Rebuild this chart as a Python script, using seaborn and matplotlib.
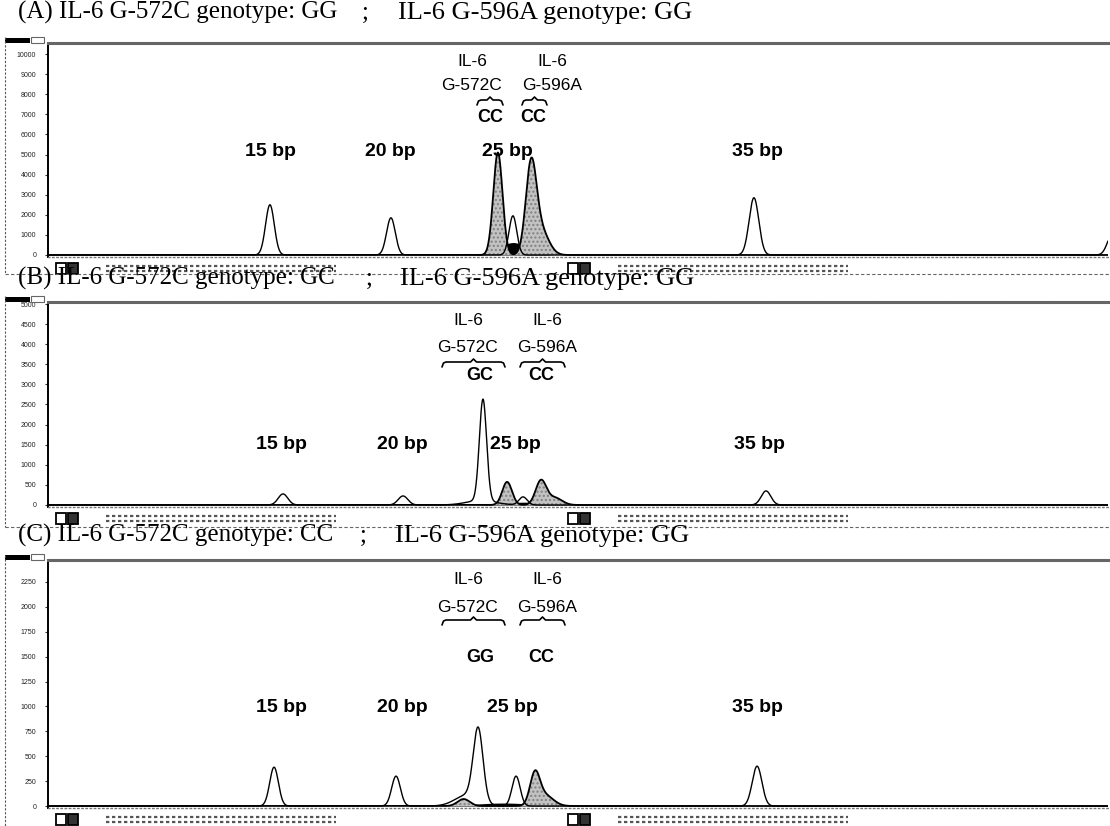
import numpy as np
import matplotlib
matplotlib.use("Agg")
import matplotlib.pyplot as plt
import seaborn as sns
from matplotlib.lines import Line2D
from matplotlib.patches import Rectangle

# ---------------- data (peak table) ----------------
panel_ids = ["A", "B", "C"]
titles_left = ["(A) IL-6 G-572C genotype: GG",
               "(B) IL-6 G-572C genotype: GC",
               "(C) IL-6 G-572C genotype: CC"]
titles_right = ["IL-6 G-596A genotype: GG",
                "IL-6 G-596A genotype: GG",
                "IL-6 G-596A genotype: GG"]
genotype_572 = ["CC", "GC", "GG"]
genotype_596 = ["CC", "CC", "CC"]
size_labels = ["15 bp", "20 bp", "25 bp", "35 bp"]

# size-standard (hollow) trace: position (bp), height (RFU), width (bp)
a_size_pos = [15.0, 20.0, 25.04, 35.0, 49.8]
a_size_h = [2500, 1850, 1950, 2850, 1000]
a_size_w = [0.18, 0.18, 0.16, 0.2, 0.2]
b_size_pos = [15.0, 19.97, 23.28, 23.2, 24.94, 35.0]
b_size_h = [275, 225, 2525, 110, 200, 350]
b_size_w = [0.2, 0.2, 0.15, 0.6, 0.17, 0.2]
c_size_pos = [15.0, 20.05, 23.45, 23.0, 25.02, 35.0]
c_size_h = [390, 300, 720, 110, 300, 400]
c_size_w = [0.18, 0.18, 0.2, 0.5, 0.17, 0.2]

# SNP product (grey filled) trace
a_snp_pos = [24.42, 25.79, 26.2]
a_snp_h = [5100, 4300, 1200]
a_snp_w = [0.19, 0.22, 0.32]
b_snp_pos = [24.28, 25.68, 26.25]
b_snp_h = [575, 600, 180]
b_snp_w = [0.2, 0.22, 0.3]
c_snp_pos = [22.85, 25.8, 26.2]
c_snp_h = [70, 300, 110]
c_snp_w = [0.25, 0.2, 0.35]

# dark filled channel
a_dark_pos = [25.05]
a_dark_h = [620]
a_dark_w = [0.55]
b_dark_pos = [25.0]
b_dark_h = [70]
b_dark_w = [0.9]
c_dark_pos = [24.5]
c_dark_h = [30]
c_dark_w = [1.2]

# y tick values for each panel
a_yticks = list(range(0, 10001, 1000))
b_yticks = list(range(0, 5001, 500))
c_yticks = list(range(0, 2251, 250))

# ---------------- layout ----------------
W, H = 1110, 826
sns.set_theme(style="white")
plt.rcParams["font.family"] = ["Liberation Sans", "DejaVu Sans"]
plt.rcParams["text.color"] = "black"

fig = plt.figure(figsize=(W / 100, H / 100), dpi=100)


def fx(px):
    return px / W


def fy(py):
    return 1 - py / H


def ftext(px, py, s, **kw):
    kw.setdefault("color", "black")
    return fig.text(fx(px), fy(py), s, **kw)


def fline(xs, ys, **kw):
    fig.add_artist(Line2D([fx(v) for v in xs], [fy(v) for v in ys],
                          transform=fig.transFigure, **kw))


def brace(x0, x1, y):
    xm = (x0 + x1) / 2
    xs = [x0, x0 + 1.5, x0 + 4, xm - 3, xm, xm + 3, x1 - 4, x1 - 1.5, x1]
    ys = [y + 5, y + 1, y, y, y - 3, y, y, y + 1, y + 5]
    fline(xs, ys, color="black", lw=1.2)


def peaks(x, pos, h, w):
    y = np.zeros_like(x)
    for p, a, s in zip(pos, h, w):
        y = y + a * np.exp(-0.5 * ((x - p) / s) ** 2)
    return y


panels = [
    dict(top=43, bot=257, xlim=(5.83, 49.63), ylim=(-100, 10550), yt=a_yticks,
         size=(a_size_pos, a_size_h, a_size_w), snp=(a_snp_pos, a_snp_h, a_snp_w),
         dark=(a_dark_pos, a_dark_h, a_dark_w),
         title_y=19, frame_top=37, frame_bot=274,
         il6_y=62, g_y=86, brace_y=100, br=((477, 503), (522, 547)),
         gt_y=118, gt_x=(490, 533), bp_y=152, bp_x=(270, 390, 507, 757),
         il6_x=(472, 552), semi_x=362, right_x=398),
    dict(top=302, bot=507, xlim=(5.27, 49.16), ylim=(-50, 5050), yt=b_yticks,
         size=(b_size_pos, b_size_h, b_size_w), snp=(b_snp_pos, b_snp_h, b_snp_w),
         dark=(b_dark_pos, b_dark_h, b_dark_w),
         title_y=285, frame_top=296, frame_bot=527,
         il6_y=320, g_y=347, brace_y=362, br=((442, 505), (520, 565)),
         gt_y=376, gt_x=(480, 541), bp_y=445, bp_x=(281, 402, 515, 759),
         il6_x=(468, 547), semi_x=366, right_x=400),
    dict(top=560, bot=808, xlim=(5.64, 49.53), ylim=(-20, 2470), yt=c_yticks,
         size=(c_size_pos, c_size_h, c_size_w), snp=(c_snp_pos, c_snp_h, c_snp_w),
         dark=(c_dark_pos, c_dark_h, c_dark_w),
         title_y=542, frame_top=555, frame_bot=826,
         il6_y=580, g_y=607, brace_y=620, br=((442, 505), (520, 565)),
         gt_y=658, gt_x=(480, 541), bp_y=708, bp_x=(281, 402, 512, 757),
         il6_x=(468, 547), semi_x=360, right_x=395),
]

serif = ["Liberation Serif", "DejaVu Serif"]
narrow = ["Liberation Sans Narrow", "Liberation Sans", "DejaVu Sans"]
sans = ["Liberation Sans", "DejaVu Sans"]

for i, p in enumerate(panels):
    left, right = 48, 1108
    ax = fig.add_axes([fx(left), fy(p["bot"]), (right - left) / W, (p["bot"] - p["top"]) / H])
    x = np.linspace(p["xlim"][0], p["xlim"][1], 5000)
    y_size = peaks(x, *p["size"])
    y_snp = peaks(x, *p["snp"])
    y_dark = peaks(x, *p["dark"])

    ax.fill_between(x, 0, y_dark, color="black", lw=0, zorder=2)
    ax.fill_between(x, 0, y_snp, where=y_snp > 1, facecolor="#c2c2c2", hatch="....",
                    edgecolor="#808080", lw=0, zorder=3)
    sns.lineplot(x=x, y=y_snp, ax=ax, color="black", lw=1.3, sort=False,
                 estimator=None, zorder=4)
    sns.lineplot(x=x, y=y_size, ax=ax, color="black", lw=1.0, sort=False,
                 estimator=None, zorder=5)

    ax.set_xlim(*p["xlim"])
    ax.set_ylim(*p["ylim"])
    ax.set_yticks(p["yt"])
    ax.set_yticklabels([str(v) for v in p["yt"]], fontsize=5, color="#222222")
    ax.tick_params(axis="y", length=2.5, width=0.8, pad=6, left=True, color="#333333")
    ax.set_xticks([])
    ax.set_xlabel("")
    ax.set_ylabel("")
    ax.spines["right"].set_visible(False)
    ax.spines["left"].set_color("black")
    ax.spines["left"].set_linewidth(1.4)
    ax.spines["top"].set_color("#666666")
    ax.spines["top"].set_linewidth(2.2)
    ax.spines["top"].set_linestyle((0, (1.2, 0.8)))
    ax.spines["bottom"].set_color("#777777")
    ax.spines["bottom"].set_linewidth(1.0)
    ax.spines["bottom"].set_linestyle((0, (1, 2)))
    ax.patch.set_alpha(0)

    # panel title
    ftext(18, p["title_y"], titles_left[i], family=serif, fontsize=18,
          va="baseline", ha="left")
    ftext(p["semi_x"], p["title_y"], ";", family=serif, fontsize=18,
          va="baseline", ha="left")
    ftext(p["right_x"], p["title_y"], titles_right[i], family=serif, fontsize=19,
          va="baseline", ha="left")

    # frame pieces
    fig.add_artist(Rectangle((fx(5), fy(p["top"])), 25 / W, 5 / H,
                             transform=fig.transFigure, color="black", lw=0))
    fig.add_artist(Rectangle((fx(31), fy(p["top"])), 13 / W, 6 / H,
                             transform=fig.transFigure, facecolor="none",
                             edgecolor="#666666", lw=0.8))
    fline([5, 5], [p["frame_top"], p["frame_bot"]], color="#555555", lw=0.8,
          linestyle=(0, (2, 1.5)))
    if i < 2:
        fline([5, 1110], [p["frame_bot"], p["frame_bot"]], color="#666666", lw=0.8,
              linestyle=(0, (3, 2)))

    # footer icons and tiny status rows
    fy0 = p["bot"] + 6
    for ix in (56, 568):
        fig.add_artist(Rectangle((fx(ix), fy(fy0 + 11)), 10 / W, 11 / H,
                                 transform=fig.transFigure, facecolor="white",
                                 edgecolor="black", lw=1.3))
        fig.add_artist(Rectangle((fx(ix + 12), fy(fy0 + 11)), 10 / W, 11 / H,
                                 transform=fig.transFigure, facecolor="#333333",
                                 edgecolor="black", lw=1.3))
        for k in range(2):
            yy = fy0 + 3 + k * 5
            fline([ix + 50, ix + 280], [yy, yy], color="#555555", lw=1.6,
                  linestyle=(0, (1.5, 1.2)))

    # annotations
    for xx in p["il6_x"]:
        ftext(xx, p["il6_y"], "IL-6", family=sans, fontsize=12.5, ha="center", va="center")
    ftext(p["il6_x"][0] - 1, p["g_y"], "G-572C", family=sans,
          fontsize=12.5, ha="center", va="center")
    ftext(p["il6_x"][1], p["g_y"], "G-596A", family=sans,
          fontsize=12.5, ha="center", va="center")
    for (x0, x1) in p["br"]:
        brace(x0, x1, p["brace_y"])
    ftext(p["gt_x"][0], p["gt_y"], genotype_572[i], family=sans,
          fontsize=13, fontweight="bold", ha="center", va="center")
    ftext(p["gt_x"][1], p["gt_y"], genotype_596[i], family=sans,
          fontsize=13, fontweight="bold", ha="center", va="center")
    for xx, s in zip(p["bp_x"], size_labels):
        ftext(xx, p["bp_y"], s, family=narrow, fontsize=14, fontweight="bold",
              ha="center", va="center")

fig.savefig("out.png", dpi=100, facecolor="white")
